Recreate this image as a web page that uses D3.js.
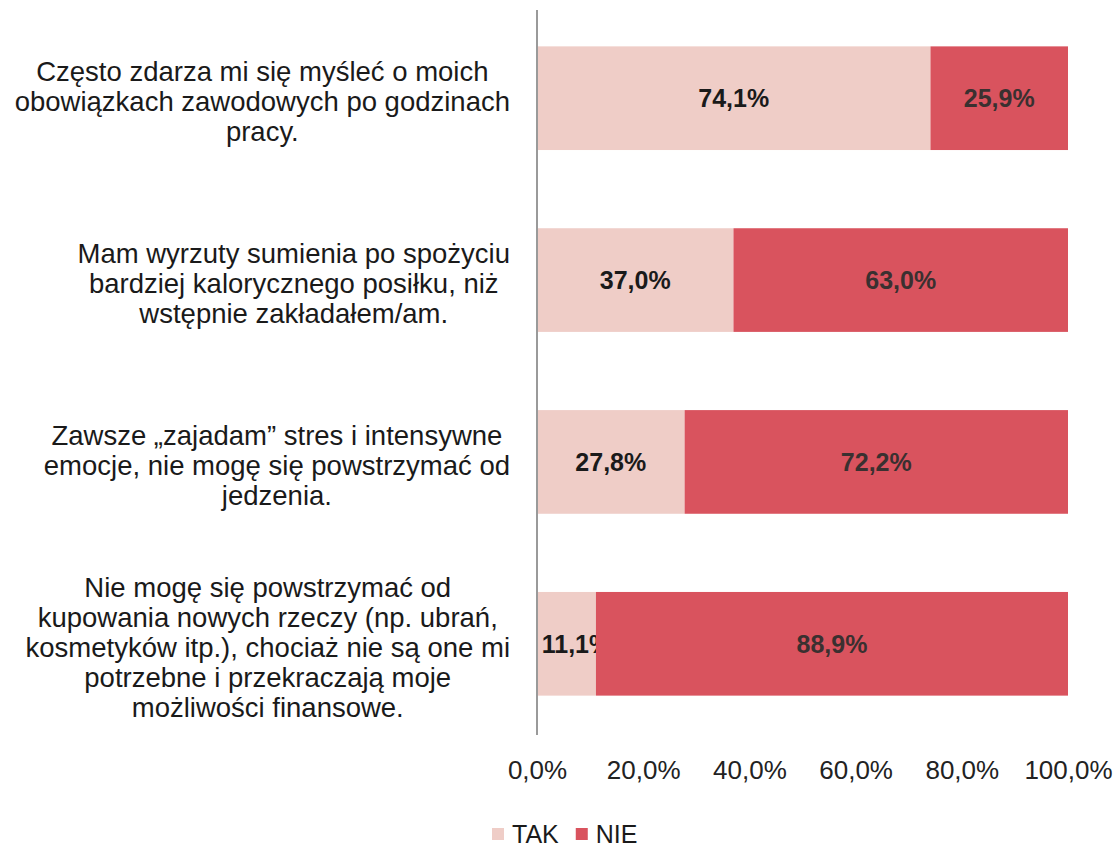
<!DOCTYPE html>
<html><head><meta charset="utf-8">
<script src="https://cdn.jsdelivr.net/npm/d3@7"></script>
<style>body{margin:0;background:#fff}svg{display:block}text{font-family:"Liberation Sans",Arial,sans-serif}</style>
</head><body>
<svg id="c" width="1119" height="850"></svg>
<script>
const categories = [
  ["Często zdarza mi się myśleć o moich","obowiązkach zawodowych po godzinach","pracy."],
  ["Mam wyrzuty sumienia po spożyciu","bardziej kalorycznego posiłku, niż","wstępnie zakładałem/am."],
  ["Zawsze „zajadam” stres i intensywne","emocje, nie mogę się powstrzymać od","jedzenia."],
  ["Nie mogę się powstrzymać od","kupowania nowych rzeczy (np. ubrań,","kosmetyków itp.), chociaż nie są one mi","potrzebne i przekraczają moje","możliwości finansowe."]
];
const tak = [74.1, 37.0, 27.8, 11.1];
const nie = [25.9, 63.0, 72.2, 88.9];
const seriesNames = ["TAK","NIE"];
const tickValues = [0,20,40,60,80,100];
const colors = ["#efcdc7","#d9535e"];

const svg = d3.select("#c");
const x = d3.scaleLinear().domain([0,100]).range([537,1068]);
const y = d3.scaleBand().domain(d3.range(categories.length)).range([10,732]).paddingInner(0.43).paddingOuter(0.2);
const fmt = v => v.toFixed(1).replace(".", ",") + "%";

const rows = categories.map((c,i)=>({i, tak:tak[i], nie:nie[i]}));
const stack = d3.stack().keys(["tak","nie"])(rows);

stack.forEach((s,k)=>{
  svg.append("g").selectAll("rect").data(s).join("rect")
    .attr("x", d=>x(d[0])).attr("width", d=>x(d[1])-x(d[0]))
    .attr("y", d=>y(d.data.i)).attr("height", y.bandwidth())
    .attr("fill", colors[k]);
  svg.append("g").selectAll("text").data(s).join("text")
    .attr("x", d=>(x(d[0])+x(d[1]))/2 + (k===0 && d.data.i===3 ? 10 : 0))
    .attr("y", d=>y(d.data.i)+y.bandwidth()/2)
    .attr("dy","0.36em").attr("text-anchor","middle")
    .attr("font-size",25).attr("font-weight","bold")
    .attr("fill", k===0 ? "#1a1a1a" : "#3a3030")
    .text(d=>fmt(d[1]-d[0]));
});

// axis line
svg.append("line").attr("x1",537).attr("x2",537).attr("y1",10).attr("y2",735)
  .attr("stroke","#9a9a9a").attr("stroke-width",2);

// x axis tick labels
const ax = d3.axisBottom(x).tickValues(tickValues).tickSize(0).tickFormat(fmt);
const axg = svg.append("g").attr("transform","translate(0,757.5)").call(ax);
axg.select(".domain").remove();
axg.selectAll("text").attr("font-size",26).attr("fill","#222")
  .style("font-family",'"Liberation Sans",Arial,sans-serif');

// category labels: block right aligned, lines centered within block
const lh = 30, rightEdge = 510;
categories.forEach((lines,i)=>{
  const g = svg.append("g");
  const cy = y(i)+y.bandwidth()/2 + 3;
  const ts = g.selectAll("text").data(lines).join("text")
    .attr("font-size",27.5).attr("fill","#1a1a1a")
    .attr("text-anchor","middle")
    .attr("y",(d,j)=>cy + (j-(lines.length-1)/2)*lh).attr("dy","0.36em")
    .text(d=>d);
  let maxW = 0; ts.each(function(){ maxW = Math.max(maxW, this.getComputedTextLength()); });
  ts.attr("x", rightEdge - maxW/2);
});

// legend
const lg = svg.append("g").attr("transform","translate(492,834)");
let lx = 0;
seriesNames.forEach((n,k)=>{
  lg.append("rect").attr("x",lx).attr("y",-6).attr("width",12).attr("height",12).attr("fill",colors[k]);
  const t = lg.append("text").attr("x",lx+20).attr("y",0).attr("dy","0.36em")
    .attr("font-size",25).attr("fill","#1a1a1a").text(n);
  lx += 20 + t.node().getComputedTextLength() + 17;
});
</script>
</body></html>
